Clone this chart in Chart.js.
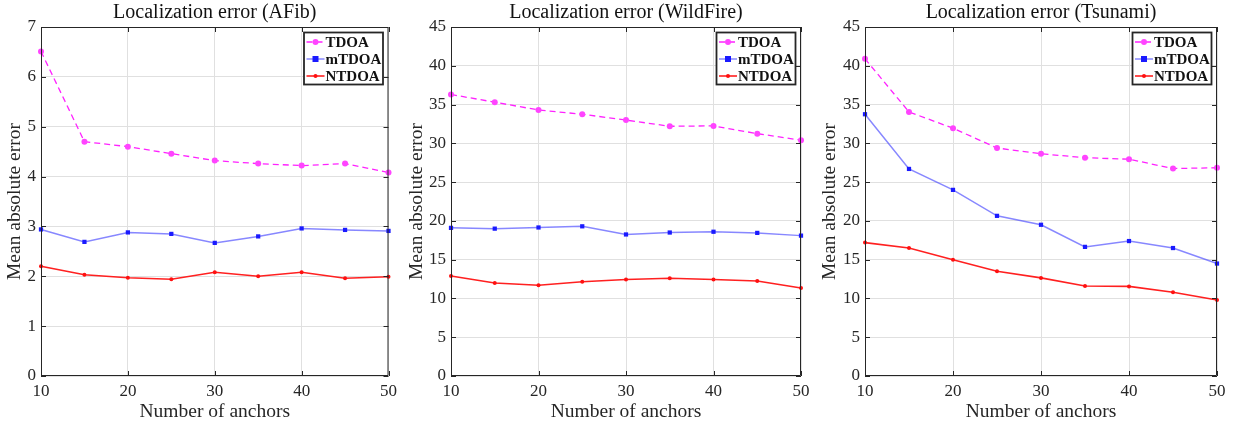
<!DOCTYPE html>
<html>
<head>
<meta charset="utf-8">
<script src="https://cdn.jsdelivr.net/npm/chart.js"></script>
<style>
    body { margin: 0; background: #fff; width: 1237px; height: 425px; overflow: hidden; }
    .row { display: flex; }
    canvas { display: block; }
</style>
</head>
<body>
<div class="row">
    <canvas id="c1" width="402" height="425"></canvas>
    <canvas id="c2" width="413" height="425"></canvas>
    <canvas id="c3" width="422" height="425"></canvas>
</div>
<script>
// --- DATA ---
const anchors = [10, 15, 20, 25, 30, 35, 40, 45, 50];
const xTicks = [10, 20, 30, 40, 50];

const afibTDOA  = [6.51, 4.70, 4.60, 4.46, 4.32, 4.26, 4.22, 4.26, 4.08];
const afibMTDOA = [2.94, 2.69, 2.88, 2.85, 2.67, 2.80, 2.96, 2.93, 2.91];
const afibNTDOA = [2.20, 2.03, 1.97, 1.94, 2.08, 2.00, 2.08, 1.96, 1.99];

const fireTDOA  = [36.3, 35.3, 34.3, 33.75, 33.0, 32.2, 32.25, 31.25, 30.4];
const fireMTDOA = [19.1, 19.0, 19.15, 19.3, 18.25, 18.5, 18.6, 18.45, 18.1];
const fireNTDOA = [12.9, 12.0, 11.7, 12.15, 12.45, 12.6, 12.45, 12.25, 11.35];

const tsuTDOA  = [40.9, 34.05, 31.95, 29.4, 28.65, 28.15, 27.95, 26.75, 26.85];
const tsuMTDOA = [33.75, 26.7, 24.0, 20.65, 19.5, 16.65, 17.4, 16.5, 14.5];
const tsuNTDOA = [17.2, 16.5, 15.0, 13.5, 12.65, 11.6, 11.55, 10.8, 9.8];

const seriesNames = ['TDOA', 'mTDOA', 'NTDOA'];

const SERIF = "'Liberation Serif', 'DejaVu Serif', serif";
const AXIS = '#262626';

// --- PLUGINS ---
// MATLAB style box with inward ticks on all four sides
const framePlugin = {
    id: 'frame',
    afterDatasetsDraw(chart) {
        const { ctx, chartArea: a, scales } = chart;
        ctx.save();
        ctx.strokeStyle = AXIS;
        ctx.lineWidth = 1;
        ctx.beginPath();
        ctx.rect(a.left + 0.5, a.top + 0.5, a.right - a.left - 1, a.bottom - a.top - 1);
        ctx.stroke();
        const len = 5;
        ctx.beginPath();
        scales.y.ticks.forEach(t => {
            const y = Math.round(scales.y.getPixelForValue(t.value)) + 0.5;
            ctx.moveTo(a.left, y); ctx.lineTo(a.left + len, y);
            ctx.moveTo(a.right, y); ctx.lineTo(a.right - len, y);
        });
        scales.x.ticks.forEach(t => {
            const x = Math.round(scales.x.getPixelForValue(t.value)) + 0.5;
            ctx.moveTo(x, a.bottom); ctx.lineTo(x, a.bottom - len);
            ctx.moveTo(x, a.top); ctx.lineTo(x, a.top + len);
        });
        ctx.stroke();
        ctx.restore();
    }
};

// legend box in the upper right corner of the plot
const boxLegend = {
    id: 'boxLegend',
    afterDraw(chart) {
        const { ctx, chartArea: a } = chart;
        const w = 80, h = 53, rowH = 17;
        const x0 = a.right - 5 - w, y0 = a.top + 5;
        ctx.save();
        ctx.fillStyle = '#fff';
        ctx.fillRect(x0, y0, w, h);
        ctx.strokeStyle = AXIS;
        ctx.lineWidth = 1.8;
        ctx.strokeRect(x0 + 0.5, y0 + 0.5, w - 1, h - 1);
        chart.data.datasets.forEach((ds, i) => {
            const cy = y0 + 10 + i * rowH;
            ctx.strokeStyle = ds.borderColor;
            ctx.lineWidth = ds.borderWidth;
            ctx.setLineDash(ds.borderDash || []);
            ctx.beginPath();
            ctx.moveTo(x0 + 3, cy); ctx.lineTo(x0 + 21, cy);
            ctx.stroke();
            ctx.setLineDash([]);
            ctx.fillStyle = ds.pointBackgroundColor;
            const r = ds.pointRadius;
            if (ds.pointStyle === 'rect') {
                ctx.fillRect(x0 + 12 - r, cy - r, 2 * r, 2 * r);
            } else {
                ctx.beginPath();
                ctx.arc(x0 + 12, cy, r, 0, Math.PI * 2);
                ctx.fill();
            }
            ctx.fillStyle = '#111';
            ctx.font = 'bold 15px ' + SERIF;
            ctx.textBaseline = 'middle';
            ctx.fillText(ds.label, x0 + 22, cy + 1);
        });
        ctx.restore();
    }
};

function makeDatasets(tdoa, mtdoa, ntdoa) {
    const pts = arr => anchors.map((a, i) => ({ x: a, y: arr[i] }));
    return [
        {
            label: seriesNames[0], data: pts(tdoa),
            borderColor: '#ff22ff', borderWidth: 1.3, borderDash: [6, 4],
            pointStyle: 'circle', pointRadius: 3,
            pointBackgroundColor: '#ff44ff', pointBorderColor: '#ff44ff', pointBorderWidth: 0,
            clip: false
        },
        {
            label: seriesNames[1], data: pts(mtdoa),
            borderColor: 'rgba(70,70,255,0.65)', borderWidth: 1.5,
            pointStyle: 'rect', pointRadius: 3,
            pointBackgroundColor: '#1a1aff', pointBorderColor: '#1a1aff', pointBorderWidth: 0,
            clip: false
        },
        {
            label: seriesNames[2], data: pts(ntdoa),
            borderColor: '#ff2020', borderWidth: 1.6,
            pointStyle: 'circle', pointRadius: 2,
            pointBackgroundColor: '#ff1010', pointBorderColor: '#ff1010', pointBorderWidth: 0,
            clip: false
        }
    ];
}

function makeChart(id, title, datasets, yMax, yStep, leftW, rightPad) {
    new Chart(document.getElementById(id), {
        type: 'line',
        data: { datasets },
        options: {
            responsive: false,
            animation: false,
            devicePixelRatio: 1,
            layout: { padding: { right: rightPad, left: 0, top: 0, bottom: 0 } },
            plugins: {
                legend: { display: false },
                tooltip: { enabled: false },
                title: {
                    display: true, text: title, color: '#111', fullSize: false,
                    font: { family: SERIF, size: 20, weight: 'normal' },
                    padding: { top: 1, bottom: 2 }
                }
            },
            scales: {
                x: {
                    type: 'linear', min: 10, max: 50,
                    afterBuildTicks: s => { s.ticks = xTicks.map(v => ({ value: v })); },
                    afterFit: s => { s.height = 49; },
                    grid: { color: '#e0e0e0', drawTicks: false },
                    border: { display: false },
                    ticks: { color: AXIS, padding: 5, font: { family: SERIF, size: 17 } },
                    title: {
                        display: true, text: 'Number of anchors', color: AXIS,
                        font: { family: SERIF, size: 19.5 }, padding: { top: 0, bottom: 1 }
                    }
                },
                y: {
                    min: 0, max: yMax,
                    afterFit: s => { s.width = leftW; },
                    grid: { color: '#e0e0e0', drawTicks: false },
                    border: { display: false },
                    ticks: { stepSize: yStep, color: AXIS, padding: 5, font: { family: SERIF, size: 17 } },
                    title: {
                        display: true, text: 'Mean absolute error', color: AXIS,
                        font: { family: SERIF, size: 19.5 }, padding: { top: 3, bottom: 0 }
                    }
                }
            }
        },
        plugins: [framePlugin, boxLegend]
    });
}

makeChart('c1', 'Localization error (AFib)', makeDatasets(afibTDOA, afibMTDOA, afibNTDOA), 7, 1, 41, 11);
makeChart('c2', 'Localization error (WildFire)', makeDatasets(fireTDOA, fireMTDOA, fireNTDOA), 45, 5, 49, 14);
makeChart('c3', 'Localization error (Tsunami)', makeDatasets(tsuTDOA, tsuMTDOA, tsuNTDOA), 45, 5, 50, 20);
</script>
</body>
</html>
